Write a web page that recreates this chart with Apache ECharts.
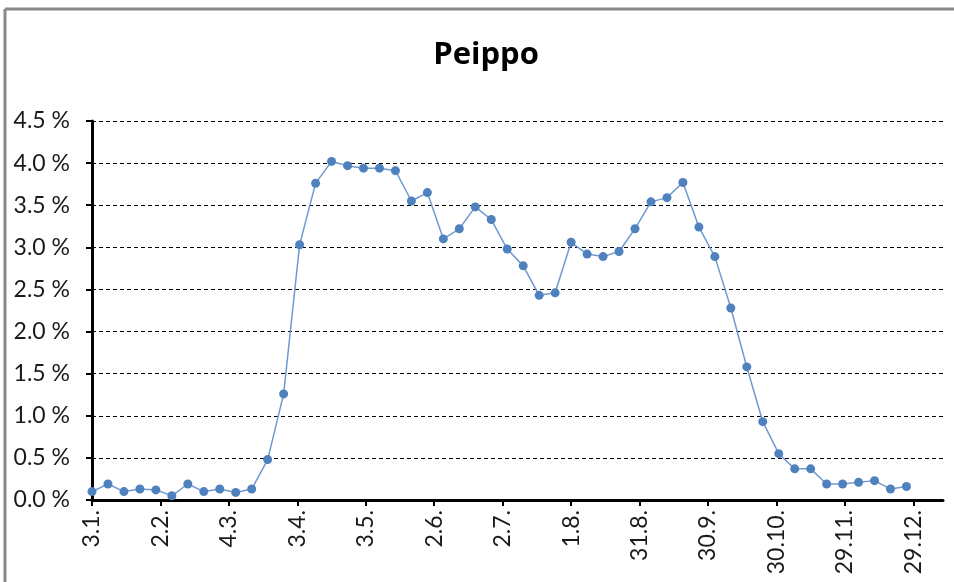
<!DOCTYPE html>
<html>
<head>
<meta charset="utf-8">
<script src="https://cdn.jsdelivr.net/npm/echarts@6/dist/echarts.min.js"></script>
<style>
html,body{margin:0;padding:0;background:#fff;}
#c{width:954px;height:582px;}
</style>
</head>
<body>
<div id="c"></div>
<script>
// Tick labels on the date axis (every 30 days starting 3.1.)
const tickLabels = ['3.1.', '2.2.', '4.3.', '3.4.', '3.5.', '2.6.', '2.7.', '1.8.', '31.8.', '30.9.', '30.10.', '29.11.', '29.12.'];
const tickStepDays = 30;
const axisEndDay = 373;
// Weekly observations, first on 3.1.
const weekStepDays = 7;
const values = [
  0.10, 0.19, 0.10, 0.13, 0.12, 0.05, 0.19, 0.10, 0.13, 0.09,
  0.13, 0.48, 1.26, 3.03, 3.76, 4.02, 3.97, 3.94, 3.94, 3.91,
  3.55, 3.65, 3.10, 3.22, 3.48, 3.33, 2.98, 2.78, 2.43, 2.46,
  3.06, 2.92, 2.89, 2.95, 3.22, 3.54, 3.59, 3.77, 3.24, 2.89,
  2.28, 1.58, 0.93, 0.55, 0.37, 0.37, 0.19, 0.19, 0.21, 0.23,
  0.13, 0.16
];
const yTicks = { min: 0, max: 4.5, step: 0.5 };
const title = 'Peippo';

const tickDays = tickLabels.map((_, i) => i * tickStepDays);
const seriesData = values.map((v, i) => [i * weekStepDays, v]);

const chart = echarts.init(document.getElementById('c'), null, { renderer: 'canvas' });
const font = 'Lato, "Open Sans", sans-serif';
chart.setOption({
  animation: false,
  backgroundColor: '#fff',
  graphic: [
    { type: 'line', shape: { x1: 5, y1: 9, x2: 954, y2: 9 }, style: { stroke: '#888', lineWidth: 3 } },
    { type: 'line', shape: { x1: 5, y1: 9, x2: 5, y2: 582 }, style: { stroke: '#888', lineWidth: 3 } }
  ],
  title: {
    text: title,
    left: 481, top: 35, textAlign: 'center',
    textStyle: { fontFamily: '"Open Sans", sans-serif', fontWeight: 'bold', fontSize: 31, color: '#000' }
  },
  grid: { left: 92, right: 11, top: 121, bottom: 82, containLabel: false },
  xAxis: {
    type: 'value', min: 0, max: axisEndDay, interval: tickStepDays,
    axisLine: { onZero: true, lineStyle: { color: '#000', width: 3 } },
    axisTick: { show: true, customValues: tickDays, length: 6, lineStyle: { color: '#000', width: 2 } },
    axisLabel: {
      customValues: tickDays,
      rotate: 90, margin: 10,
      fontFamily: font, fontSize: 23, color: '#1a1a1a',
      formatter: v => tickLabels[Math.round(v / tickStepDays)] || ''
    },
    splitLine: { show: false }
  },
  yAxis: {
    type: 'value', min: yTicks.min, max: yTicks.max, interval: yTicks.step,
    axisLine: { show: true, lineStyle: { color: '#000', width: 3 } },
    axisTick: { show: true, length: 6, lineStyle: { color: '#000', width: 2 } },
    axisLabel: {
      margin: 22, fontFamily: font, fontSize: 23, color: '#1a1a1a',
      formatter: v => v.toFixed(1) + ' %'
    },
    splitLine: { show: true, lineStyle: { color: '#000', type: [4, 3], width: 1 } }
  },
  series: [{
    type: 'line',
    data: seriesData,
    symbol: 'circle', symbolSize: 9,
    itemStyle: { color: '#4F81BD' },
    lineStyle: { color: '#6E9AD0', width: 1.5 },
    z: 5
  }]
});
</script>
</body>
</html>
